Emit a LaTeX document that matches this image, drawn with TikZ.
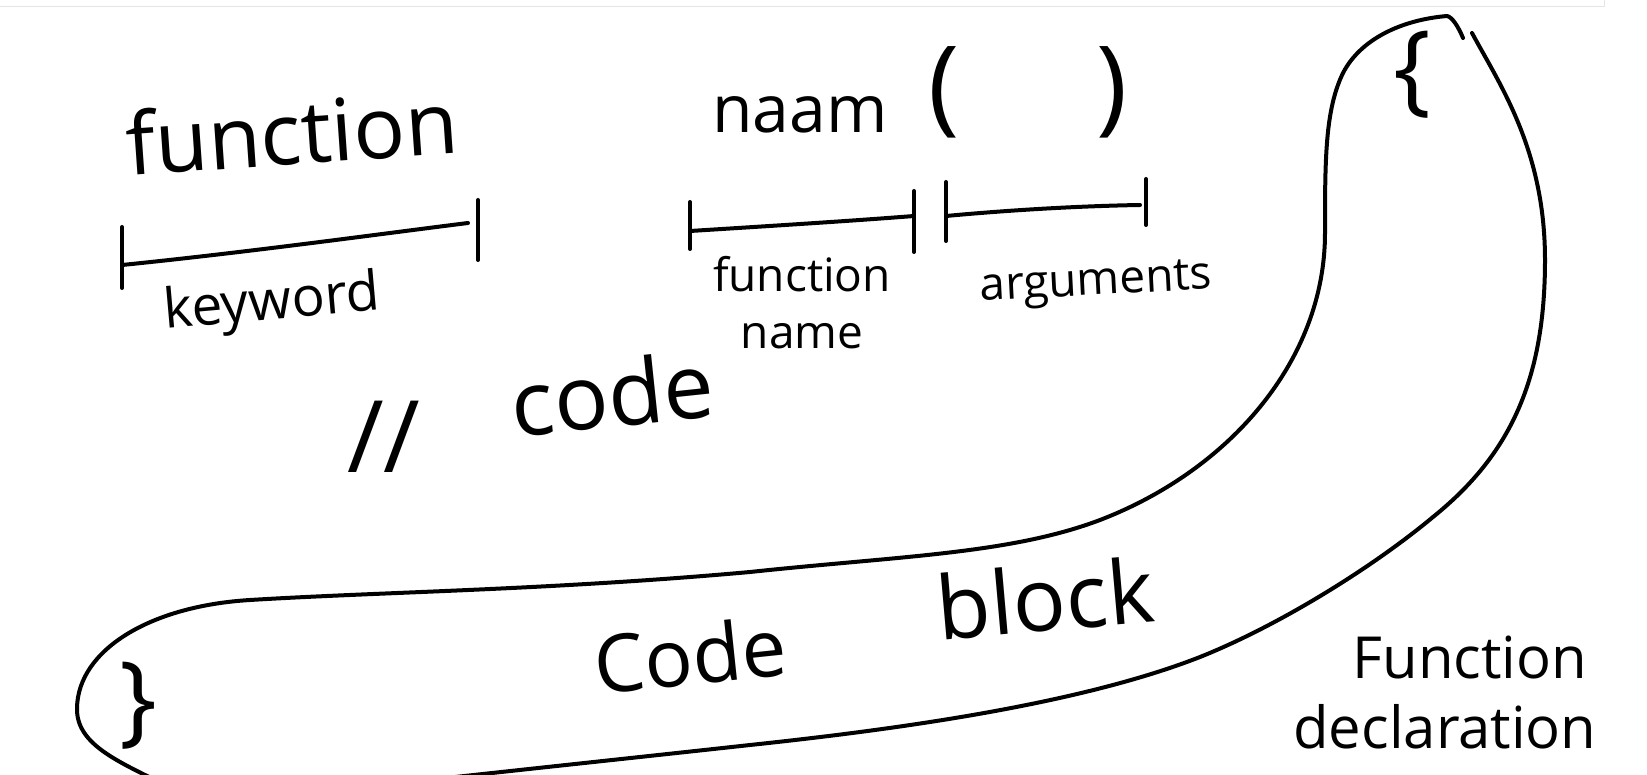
\documentclass[tikz,border=0pt]{standalone}
\usepackage{fontspec}
\setmainfont{Open Sans}
\begin{document}
\begin{tikzpicture}[x=1pt, y=-1pt,
    pen/.style={line width=4pt, line cap=round, line join=round},
    word/.style={inner sep=0pt, font=\fontsize{#1}{#1}\selectfont}]
  \useasboundingbox (0,0) rectangle (1647,775);
  \clip (0,0) rectangle (1647,775);

  % Screenshot frame at the top
  \draw[gray!20, line width=1pt] (0,7) -- (1604,7) -- (1604,0);

  % Keyword and its span
  \node[word=86, rotate=4] (kw) at (292,132) {function};
  \draw[pen] (122,227) -- (122,288);
  \draw[pen] (478,200) -- (478,260);
  \draw[pen] (122,265) .. controls (250,252) and (380,234) .. (468,223);
  \node[word=55, rotate=5] (kwlabel) at (272,305) {keyword};

  % Function name and arguments
  \node[word=66] (naam) at (800,115) {naam};
  \node[word=105] (lpar) at (944,92) {(};
  \node[word=105] (rpar) at (1112,92) {)};
  \foreach \x/\top/\bot in {690/202/249, 914/191/252, 946/182/241, 1146/179/225} {
    \draw[pen] (\x,\top) -- (\x,\bot);
  }
  \draw[pen] (690,231) .. controls (770,226) and (850,221) .. (914,216);
  \draw[pen] (946,216) .. controls (1010,210) and (1080,206) .. (1140,205);
  \node[inner sep=0pt, align=center, font=\fontsize{46}{57}\selectfont] (fname) at (802,303) {function\\name};
  \node[word=46, rotate=3] (args) at (1096,285) {arguments};

  % Comment line
  \node[word=100] (slashes) at (384,437) {//};
  \node[word=90, rotate=6] (code) at (612,393) {code};

  % Outline of the block, left stroke
  \draw[pen] (1463,38) .. controls (1458,26) and (1452,17) .. (1447,16)
    .. controls (1400,20) and (1360,40) .. (1343,73)
    .. controls (1325,110) and (1325,160) .. (1325,233)
    .. controls (1325,360) and (1230,470) .. (1100,520)
    .. controls (1010,554) and (900,556) .. (750,572)
    .. controls (550,590) and (380,592) .. (250,600)
    .. controls (150,606) and (78,650) .. (77,708)
    .. controls (76,745) and (120,762) .. (165,785);
  % right stroke
  \draw[pen] (1472,33) .. controls (1500,85) and (1545,150) .. (1545,260)
    .. controls (1545,380) and (1510,455) .. (1433,517)
    .. controls (1373,567) and (1280,625) .. (1200,657)
    .. controls (1080,704) and (900,729) .. (750,745)
    .. controls (650,756) and (500,772) .. (410,782);

  % Braces
  \node[word=100] (lbrace) at (1412,75) {\{};
  \node[word=100] (rbrace) at (138,706) {\}};

  % Block labels
  \node[word=80, rotate=6] (codeword) at (690,655) {Code};
  \node[word=88, rotate=5] (blockword) at (1045,598) {block};
  \node[inner sep=0pt, align=center, font=\fontsize{58}{70}\selectfont] (decl) at (1445,692) {\hspace*{50pt}Function\\declaration};
\end{tikzpicture}
\end{document}
